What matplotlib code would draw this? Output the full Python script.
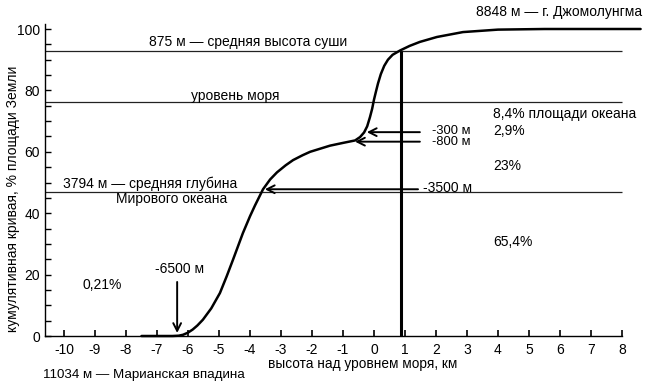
import matplotlib
matplotlib.use("Agg")
import matplotlib.pyplot as plt

plt.rcParams['font.family'] = ['Liberation Sans', 'DejaVu Sans']

# Hypsometric (cumulative) curve: elevation (km) vs cumulative % of Earth's area
elev_km = [-7.5, -6.5, -6.3, -6.16, -6.0, -5.85, -5.7, -5.52, -5.25, -4.97, -4.75,
           -4.55, -4.23, -4.0, -3.84, -3.58, -3.35, -3.13, -2.85, -2.61, -2.3,
           -2.06, -1.74, -1.42, -1.0, -0.61, -0.45, -0.32, -0.22, -0.13, -0.06,
           0.0, 0.06, 0.13, 0.22, 0.33, 0.45, 0.6, 0.84, 1.15, 1.48, 2.03, 2.87,
           4.0, 5.5, 8.6]
cum_pct = [0, 0, 0.1, 0.4, 1.1, 2.1, 3.4, 5.3, 9.0, 14.0, 19.5,
           24.8, 33.5, 39.0, 42.5, 47.8, 51.0, 53.3, 55.6, 57.3, 58.9,
           60.0, 61.0, 62.0, 62.9, 63.7, 64.8, 66.3, 68.3, 71.3, 74.0,
           77.0, 79.5, 82.3, 85.3, 88.0, 90.0, 91.6, 93.0, 94.5, 95.8, 97.4, 99.0,
           99.8, 100.0, 100.0]

ref_levels = [92.8, 76.2, 47.0]      # 875 m, sea level, 3794 m
land_mean_km = 0.875
land_mean_pct = 92.8

x_ticks = list(range(-10, 9))
y_ticks = [0, 20, 40, 60, 80, 100]

FS = 10

fig = plt.figure(figsize=(6.54, 3.9), dpi=100)
ax = fig.add_axes([45.4 / 654, 54 / 390, 604.5 / 654, 311.6 / 390])
ax.set_xlim(-10.6, 8.9)
ax.set_ylim(0, 101.5)

for s in ['top', 'right']:
    ax.spines[s].set_visible(False)
ax.spines['left'].set_bounds(0, 101.5)
ax.spines['bottom'].set_bounds(-10.6, 8)
for s in ['left', 'bottom']:
    ax.spines[s].set_linewidth(1.0)

ax.set_xticks(x_ticks)
ax.set_xticklabels([str(t) for t in x_ticks], fontsize=FS)
ax.set_yticks(y_ticks)
ax.set_yticklabels([str(t) for t in y_ticks], fontsize=FS)
ax.set_yticks(range(0, 101, 5), minor=True)
ax.tick_params(axis='x', direction='in', length=4, width=1.2, pad=5)
ax.tick_params(axis='y', which='both', direction='in', length=4, width=1.0, pad=4)

# reference horizontal lines
ax.hlines(ref_levels, -10.6, 8, colors='#222222', lw=0.9)
# mean land height vertical
ax.vlines(land_mean_km, 0, land_mean_pct, colors='black', lw=2.2)
# the curve
ax.plot(elev_km, cum_pct, color='black', lw=1.8, clip_on=False,
        solid_capstyle='round', solid_joinstyle='round')

ap = dict(arrowstyle='->,head_length=0.55,head_width=0.28', lw=1.4, color='black',
          shrinkA=0, shrinkB=0)
ax.annotate('', xy=(-6.35, 1.0), xytext=(-6.35, 17.6), arrowprops=ap)
ax.annotate('', xy=(-3.52, 47.8), xytext=(1.42, 47.8), arrowprops=ap)
ax.annotate('', xy=(-0.23, 66.4), xytext=(1.48, 66.4), arrowprops=ap)
ax.annotate('', xy=(-0.61, 63.3), xytext=(1.48, 63.3), arrowprops=ap)

def t(x, y, s, ha='left', fs=FS, **kw):
    ax.text(x, y, s, ha=ha, va='center', fontsize=fs, clip_on=False, **kw)

t(5.97, 105.5, '8848 м — г. Джомолунгма', ha='center')
t(-4.06, 95.8, '875 м — средняя высота суши', ha='center')
t(-4.48, 78.2, 'уровень моря', ha='center')
t(-10.03, 49.5, '3794 м — средняя глубина')
t(-8.32, 44.6, 'Мирового океана')
t(3.84, 72.3, '8,4% площади океана')
t(1.87, 66.8, '-300 м', fs=9.3)
t(1.87, 63.1, '-800 м', fs=9.3)
t(3.84, 66.8, '2,9%')
t(3.84, 55.4, '23%')
t(1.58, 48.3, '-3500 м')
t(3.84, 30.6, '65,4%')
t(-9.39, 16.6, '0,21%')
t(-6.26, 21.8, '-6500 м', ha='center')
t(-10.68, -12.8, '11034 м — Марианская впадина', fs=9.6)
t(-0.35, -9.1, 'высота над уровнем моря, км', ha='center', fs=9.8)

fig.text(13 / 654, 1 - 199 / 390, 'кумулятивная кривая, % площади Земли',
         rotation=90, ha='center', va='center', fontsize=FS)

fig.savefig('out.png', dpi=100)
